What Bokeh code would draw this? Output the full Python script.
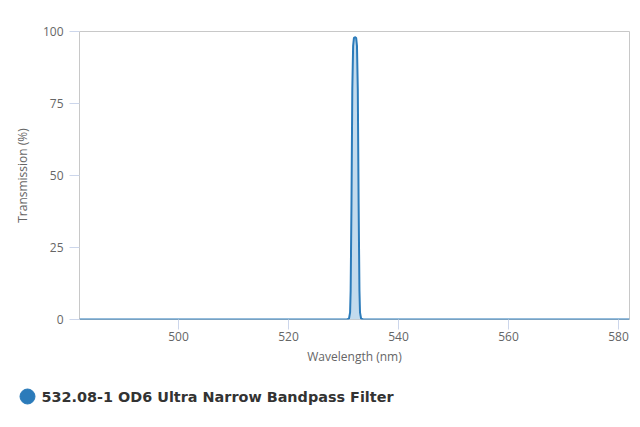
from bokeh.plotting import figure
from bokeh.layouts import column
from bokeh.models import Range1d, FixedTicker, ColumnDataSource
from bokeh.core.properties import value
from bokeh.embed import file_html
from bokeh.resources import INLINE

series_name = "532.08-1 OD6 Ultra Narrow Bandpass Filter"
wavelength = [482.0, 530.6, 531.0, 531.2, 531.3, 531.45, 531.6, 531.75, 531.9, 532.08,
              532.3, 532.45, 532.6, 532.75, 532.9, 533.0, 533.2, 533.6, 582.0]
transmission = [0.0, 0.0, 0.3, 2.5, 10.0, 40.0, 80.0, 95.0, 97.8, 98.0,
                97.8, 95.0, 80.0, 40.0, 10.0, 2.5, 0.3, 0.0, 0.0]
x_ticks = [500, 520, 540, 560, 580]
y_ticks = [0, 25, 50, 75, 100]

LINE = "#2b7bba"
FILL = "#bcd7eb"
FONT = "Open Sans"

src = ColumnDataSource(dict(x=wavelength, y=transmission, y0=[0.0] * len(wavelength)))

p = figure(width=632, height=375, output_backend="svg", toolbar_location=None,
           x_range=Range1d(482, 582), y_range=Range1d(0, 100),
           min_border_left=79, min_border_right=3, min_border_top=31, min_border_bottom=56)
p.frame_align = False

p.varea(x="x", y1="y0", y2="y", source=src, fill_color=FILL, fill_alpha=0.9)
p.line(x="x", y="y", source=src, line_color=LINE, line_width=2)

p.xgrid.grid_line_color = None
p.ygrid.grid_line_color = None
p.outline_line_color = "#c8c8c8"
p.outline_line_width = 1

for ax in (p.xaxis[0], p.yaxis[0]):
    ax.axis_line_color = None
    ax.major_tick_line_color = "#ccd6eb"
    ax.major_tick_in = 0
    ax.major_tick_out = 10
    ax.minor_tick_line_color = None
    ax.major_label_text_font = FONT
    ax.major_label_text_font_size = "12px"
    ax.major_label_text_color = "#666666"
    ax.axis_label_text_font = FONT
    ax.axis_label_text_font_size = "12px"
    ax.axis_label_text_color = "#666666"
    ax.axis_label_text_font_style = "normal"

p.xaxis[0].ticker = FixedTicker(ticks=x_ticks)
p.yaxis[0].ticker = FixedTicker(ticks=y_ticks)
p.xaxis[0].axis_label = "Wavelength (nm)"
p.yaxis[0].axis_label = "Transmission (%)"
p.xaxis[0].major_label_standoff = 2
p.yaxis[0].major_label_standoff = 6
p.xaxis[0].axis_label_standoff = 4
p.yaxis[0].axis_label_standoff = 9

# legend strip below the chart (its ranges run in pixels)
lg = figure(width=632, height=44, output_backend="svg", toolbar_location=None,
            x_range=Range1d(0, 632), y_range=Range1d(0, 44),
            x_axis_location=None, y_axis_location=None,
            min_border=0, outline_line_color=None)
lg.frame_align = False
lg.grid.visible = False
lg.scatter(x=[27], y=[23], marker="circle", size=15, fill_color=LINE, line_color=LINE)
lg.text(x=[41], y=[23], text=[series_name], text_font=value("DejaVu Sans"), text_font_style="bold",
        text_font_size="14.4px", text_color="#333333", text_baseline="middle", text_align="left")

open("out.html", "w").write(file_html(column(p, lg, spacing=0), INLINE))
